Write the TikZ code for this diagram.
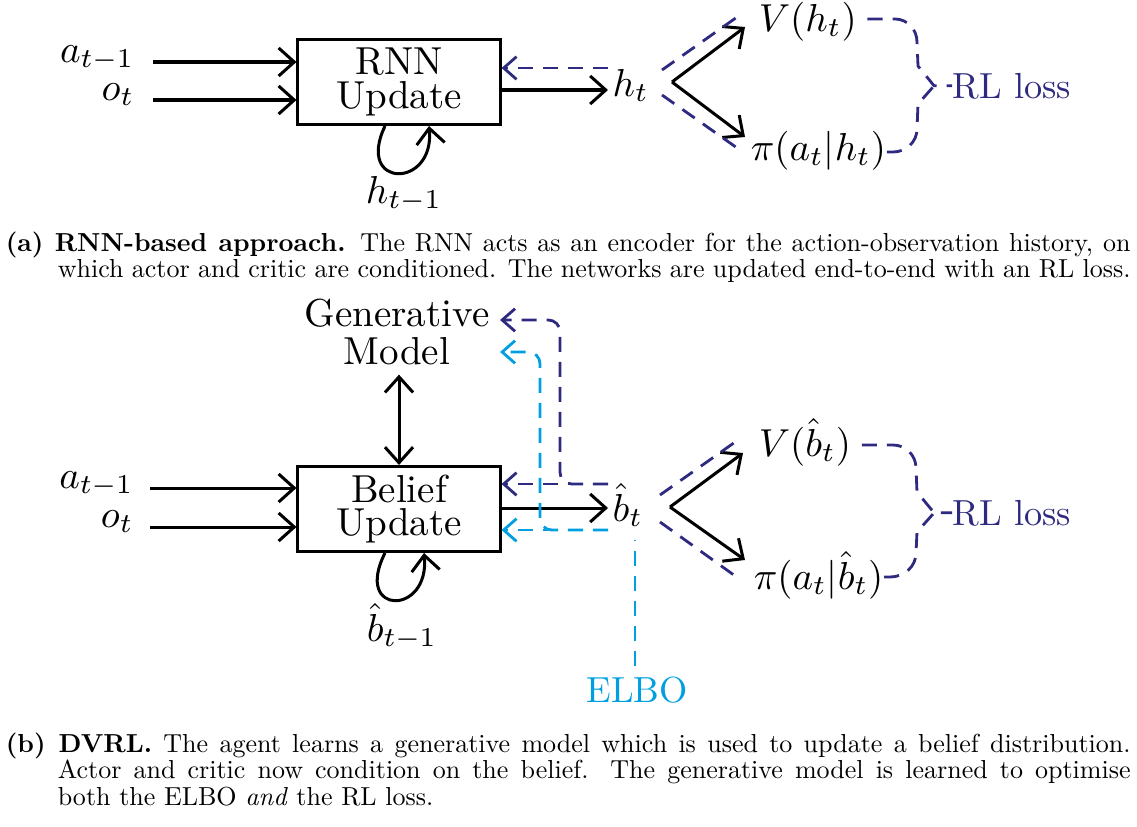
\documentclass[tikz,border=0pt]{standalone}
\usepackage{graphicx}
\usetikzlibrary{arrows.meta}
\definecolor{rlc}{HTML}{2E2A80}
\definecolor{elc}{HTML}{009FE0}
\begin{document}
\begin{tikzpicture}[x=0.2564pt,y=-0.2564pt,
  lbl/.style={inner sep=0pt},
  procbox/.style={draw, line width=0.77pt, minimum width=51.8pt, minimum height=21.8pt, inner sep=0pt, align=center, font=\fontsize{10}{8.5}\selectfont},
  arr/.style={line width=0.77pt, -{Straight Barb[length=4pt,width=7.2pt]}},
  darr/.style={line width=0.77pt, {Straight Barb[length=4pt,width=7.2pt]}-{Straight Barb[length=4pt,width=7.2pt]}},
  rldash/.style={draw=rlc, line width=0.72pt, dash pattern=on 3.85pt off 2.56pt},
  rlarr/.style={rldash, -{Straight Barb[length=3.3pt,width=5.8pt]}},
  eldash/.style={draw=elc, line width=0.72pt, dash pattern=on 3.85pt off 2.56pt},
  elarr/.style={eldash, -{Straight Barb[length=3.3pt,width=5.8pt]}},
  rltxt/.style={inner sep=0pt, text=rlc},
  eltxt/.style={inner xsep=0pt, inner ysep=2.56pt, text=elc},
]
\useasboundingbox (0,0) rectangle (1137,826);

%%%%%%%%%%%%%%%% (a) %%%%%%%%%%%%%%%%
\node[procbox] (rnn) at (399,82) {RNN\\Update};
\node[lbl, inner xsep=4.6pt, anchor=base east] (a1) at (153,62) {$a_{t-1}$};
\node[lbl, inner xsep=4.6pt, anchor=base east] (o1) at (153,100) {$o_t$};
\draw[arr] (a1.base east) -- (a1.base east -| rnn.west);
\draw[arr] (o1.base east) -- (o1.base east -| rnn.west);
\draw[arr] (rnn.south -| 385,0) .. controls (355,189) and (435,189) .. (rnn.south -| 429,0);
\node[lbl, anchor=base] (hm) at (404,203) {$h_{t-1}$};

\node[lbl, inner xsep=1pt, anchor=base west] (ht) at (608,96) {$h_t$};
\draw[arr] (rnn.east |- 0,90) -- (ht.west |- 0,90);
\draw[rlarr] (ht.west |- 0,68) -- (rnn.east |- 0,68);

\coordinate (fa) at (672,82);
\coordinate (fa1) at (745,27);
\coordinate (fa2) at (745,137);
\draw[arr] (fa) -- (fa1);
\draw[arr] (fa) -- (fa2);
\coordinate (da1) at (662,70);
\coordinate (da2) at (740,15);
\coordinate (db1) at (662,95);
\coordinate (db2) at (740,150);
\draw[rldash] (da1) -- (da2);
\draw[rldash] (db1) -- (db2);

\node[lbl, inner xsep=2.56pt, anchor=base west] (V1) at (748,31) {$V(h_t)$};
\node[lbl, anchor=base west] (P1) at (750,160) {$\pi(a_t|h_t)$};
\node[rltxt, anchor=base west] (RL1) at (952,98) {\scalebox{0.93}{RL loss}};
\coordinate (tipA) at ([xshift=-4.6pt]RL1.west);
\draw[rldash] (V1.east |- 0,19) -- (895,19) to[out=0,in=90] (917,42) -- (918,66) -- (tipA) -- (RL1.west);
\draw[rldash] (P1.east |- 0,152) -- (893,152) to[out=0,in=-90] (917,129) -- (918,104) -- (tipA);

\node[anchor=base west, inner sep=0pt] (capa) at (5,251) {\scalebox{0.667}{\parbox[t]{432.4pt}{\fontsize{10}{10}\selectfont\hangindent=20pt\hangafter=1\parfillskip=0pt
{\bfseries (a) RNN-based approach.} The RNN acts as an encoder for the action-observation history, on\linebreak which actor and critic are conditioned. The networks are updated end-to-end with an RL loss.}}};

%%%%%%%%%%%%%%%% (b) %%%%%%%%%%%%%%%%
\node[procbox] (bel) at (399,509) {Belief\\Update};
\node[lbl, inner xsep=2.56pt, inner ysep=2.2pt, align=center, font=\fontsize{10}{9.9}\selectfont] (gen) at (397,332) {Generative\\Model};
\draw[darr] (gen.south -| bel.north) -- (bel.north);

\node[lbl, inner xsep=4pt, anchor=base east] (a2) at (150,488) {$a_{t-1}$};
\node[lbl, inner xsep=4pt, anchor=base east] (o2) at (150,527) {$o_t$};
\draw[arr] (a2.base east) -- (a2.base east -| bel.west);
\draw[arr] (o2.base east) -- (o2.base east -| bel.west);
\draw[arr] (bel.south -| 385,0) .. controls (353,616) and (430,616) .. (bel.south -| 424,0);
\node[lbl, anchor=base] (bm) at (402,641) {$\hat b_{t-1}$};

\node[lbl, inner xsep=1pt, anchor=base west] (bt) at (608,521) {$\hat b_t$};
\draw[arr] (bel.east |- 0,508) -- (bt.west |- 0,508);
\draw[rlarr] (bt.west |- 0,484) -- (bel.east |- 0,484);
\draw[rlarr, rounded corners=3pt] (bt.west |- 0,484) -- (560,484) -- (560,320) -- (gen.east |- 0,320);
\draw[elarr] (bt.west |- 0,530) -- (bel.east |- 0,530);
\draw[elarr, rounded corners=3pt] (bt.west |- 0,530) -- (540,530) -- (540,352) -- (gen.east |- 0,352);

\node[eltxt, anchor=base] (elbo) at (637,702) {\scalebox{0.93}{ELBO}};
\draw[eldash] (elbo.north -| 635,0) -- (635,540);

\coordinate (fb) at (670,507);
\coordinate (fb1) at (743,453);
\coordinate (fb2) at (745,560);
\draw[arr] (fb) -- (fb1);
\draw[arr] (fb) -- (fb2);
\coordinate (dc1) at (660,495);
\coordinate (dc2) at (738,440);
\coordinate (dd1) at (660,522);
\coordinate (dd2) at (738,578);
\draw[rldash] (dc1) -- (dc2);
\draw[rldash] (dd1) -- (dd2);

\node[lbl, inner xsep=2.56pt, anchor=base west] (V2) at (748,456) {$V(\hat b_t)$};
\node[lbl, anchor=base west] (P2) at (753,589) {$\pi(a_t|\hat b_t)$};
\node[rltxt, anchor=base west] (RL2) at (952,525) {\scalebox{0.93}{RL loss}};
\coordinate (tipB) at ([xshift=-4.6pt]RL2.west);
\draw[rldash] (V2.east |- 0,445) -- (893,445) to[out=0,in=90] (916,468) -- (917,492) -- (tipB) -- (RL2.west);
\draw[rldash] (P2.east |- 0,577) -- (890,577) to[out=0,in=-90] (916,553) -- (917,532) -- (tipB);

\node[anchor=base west, inner sep=0pt] (capb) at (5,752) {\scalebox{0.667}{\parbox[t]{432.4pt}{\fontsize{10}{10.3}\selectfont\hangindent=20pt\hangafter=1
{\bfseries (b) DVRL.} The agent learns a generative model which is used to update a belief distribution.\linebreak Actor and critic now condition on the belief. The generative model is learned to optimise\linebreak both the ELBO \emph{and} the RL loss.}}};
\end{tikzpicture}
\end{document}
